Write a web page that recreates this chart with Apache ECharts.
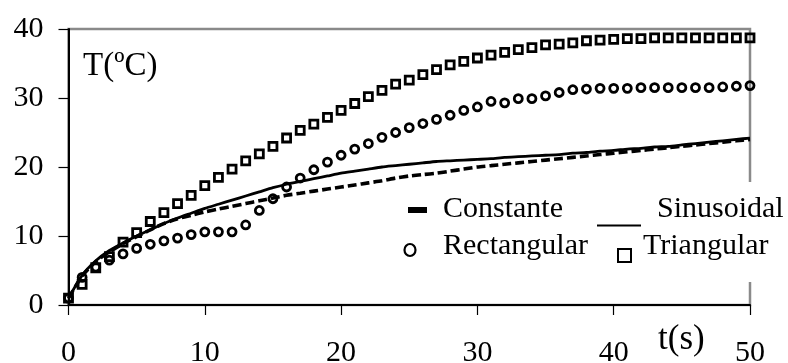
<!DOCTYPE html>
<html>
<head>
<meta charset="utf-8">
<script src="https://cdn.jsdelivr.net/npm/echarts@6/dist/echarts.min.js"></script>
<style>
  html, body { margin: 0; padding: 0; background: #fff; }
  #chart { width: 788px; height: 363px; }
</style>
</head>
<body>
<div id="chart"></div>
<script>
// Time samples (s)
const times = [0,1,2,3,4,5,6,7,8,9,10,11,12,13,14,15,16,17,18,19,20,21,22,23,24,25,26,27,28,29,30,31,32,33,34,35,36,37,38,39,40,41,42,43,44,45,46,47,48,49,50];

// Temperature (ºC) for each heating profile
const constante = [1.0,4.2,6.3,7.7,8.9,9.9,10.9,11.8,12.5,13.0,13.5,13.9,14.3,14.7,15.1,15.5,15.9,16.2,16.5,16.8,17.1,17.4,17.7,18.0,18.4,18.7,18.9,19.1,19.4,19.7,20.0,20.2,20.4,20.6,20.8,21.0,21.2,21.4,21.6,21.8,22.0,22.2,22.4,22.6,22.8,23.0,23.2,23.4,23.6,23.8,24.0];
const sinusoidal = [1.0,4.3,6.4,7.9,9.0,10.0,10.9,11.8,12.6,13.3,14.0,14.6,15.2,15.8,16.4,17.0,17.5,17.9,18.3,18.7,19.1,19.4,19.7,20.0,20.2,20.4,20.6,20.8,20.9,21.0,21.1,21.2,21.4,21.5,21.6,21.7,21.8,22.0,22.1,22.3,22.4,22.6,22.7,22.9,23.0,23.2,23.4,23.6,23.8,24.0,24.2];
const rectangular = [1.0,4.0,5.5,6.5,7.4,8.2,8.8,9.3,9.7,10.2,10.6,10.6,10.6,11.6,13.7,15.4,17.1,18.4,19.6,20.7,21.7,22.6,23.4,24.3,25.0,25.7,26.3,26.9,27.5,28.2,28.7,29.5,29.3,29.9,29.9,30.3,30.8,31.2,31.3,31.4,31.4,31.4,31.5,31.5,31.5,31.5,31.5,31.5,31.6,31.7,31.8];
const triangular = [1.0,3.0,5.4,7.0,9.1,10.5,12.1,13.4,14.7,15.9,17.3,18.5,19.7,20.9,21.9,23.0,24.2,25.3,26.2,27.2,28.2,29.2,30.2,31.1,32.0,32.6,33.4,34.1,34.8,35.3,35.8,36.2,36.6,37.0,37.3,37.7,37.8,38.0,38.3,38.4,38.5,38.6,38.6,38.7,38.7,38.7,38.7,38.7,38.7,38.7,38.7];

const xTicks = [0, 10, 20, 30, 40, 50];
const yTicks = [0, 10, 20, 30, 40];

const FONT = '"Liberation Serif", "Times New Roman", serif';
const pairs = arr => times.map((t, i) => [t, arr[i]]);

const chart = echarts.init(document.getElementById('chart'), null, { renderer: 'canvas' });

const markerStyle = { color: 'rgba(0,0,0,0)', borderColor: '#000', borderWidth: 2.8, opacity: 1 };

chart.setOption({
  animation: false,
  backgroundColor: '#fff',
  grid: {
    left: 68.5, right: 38, top: 29, bottom: 58,
    outerBoundsMode: 'none', containLabel: false,
    show: true, borderColor: '#8a8a8a', borderWidth: 2.5, backgroundColor: 'transparent'
  },
  xAxis: {
    type: 'value',
    min: xTicks[0], max: xTicks[xTicks.length - 1], interval: 10,
    axisLine: { show: true, onZero: false, lineStyle: { color: '#000', width: 2 } },
    axisTick: { show: true, inside: false, length: 10, lineStyle: { color: '#000', width: 1.2 } },
    axisLabel: { margin: 33, fontFamily: FONT, fontSize: 30, color: '#000' },
    splitLine: { show: false }
  },
  yAxis: {
    type: 'value',
    min: yTicks[0], max: yTicks[yTicks.length - 1], interval: 10,
    axisLine: { show: true, onZero: false, lineStyle: { color: '#000', width: 2 } },
    axisTick: { show: true, inside: false, length: 10, lineStyle: { color: '#000', width: 1.2 } },
    axisLabel: { margin: 25, fontFamily: FONT, fontSize: 30, color: '#000' },
    splitLine: { show: false }
  },
  series: [
    {
      name: 'Rectangular', type: 'scatter', data: pairs(rectangular),
      symbol: 'circle', symbolSize: 8, itemStyle: markerStyle, z: 2
    },
    {
      name: 'Triangular', type: 'scatter', data: pairs(triangular),
      symbol: 'rect', symbolSize: 8, itemStyle: markerStyle, z: 2
    },
    {
      name: 'Constante', type: 'line', data: pairs(constante), showSymbol: false, smooth: 0.2,
      lineStyle: { color: '#000', width: 3.6, type: [9, 4] }, z: 3
    },
    {
      name: 'Sinusoidal', type: 'line', data: pairs(sinusoidal), showSymbol: false, smooth: 0.2,
      lineStyle: { color: '#000', width: 2.8 }, z: 3
    }
  ],
  graphic: [
    // axis titles
    { type: 'text', left: 83, top: 50, z: 10,
      style: { text: 'T(ºC)', font: '33px ' + FONT, fill: '#000' } },
    { type: 'text', left: 658, top: 322, z: 10,
      style: { text: 't(s)', font: '35px ' + FONT, fill: '#000' } },
    // legend box
    { type: 'rect', shape: { x: 398, y: 182, width: 390, height: 100 }, z: 20,
      style: { fill: '#fff' } },
    { type: 'rect', shape: { x: 408, y: 207, width: 19, height: 6 }, z: 21,
      style: { fill: '#000' } },
    { type: 'text', x: 443, y: 209, z: 21,
      style: { text: 'Constante', font: '30px ' + FONT, fill: '#000', verticalAlign: 'middle' } },
    { type: 'line', shape: { x1: 597, y1: 225.5, x2: 641, y2: 225.5 }, z: 21,
      style: { stroke: '#000', lineWidth: 2 } },
    { type: 'text', x: 657, y: 209, z: 21,
      style: { text: 'Sinusoidal', font: '30px ' + FONT, fill: '#000', verticalAlign: 'middle' } },
    { type: 'ellipse', shape: { cx: 410, cy: 250, rx: 5.5, ry: 6 }, z: 21,
      style: { fill: 'none', stroke: '#000', lineWidth: 2.2 } },
    { type: 'text', x: 443, y: 246, z: 21,
      style: { text: 'Rectangular', font: '30px ' + FONT, fill: '#000', verticalAlign: 'middle' } },
    { type: 'rect', shape: { x: 618, y: 249, width: 13, height: 13 }, z: 21,
      style: { fill: 'none', stroke: '#000', lineWidth: 2 } },
    { type: 'text', x: 643, y: 246, z: 21,
      style: { text: 'Triangular', font: '30px ' + FONT, fill: '#000', verticalAlign: 'middle' } }
  ]
});
</script>
</body>
</html>
